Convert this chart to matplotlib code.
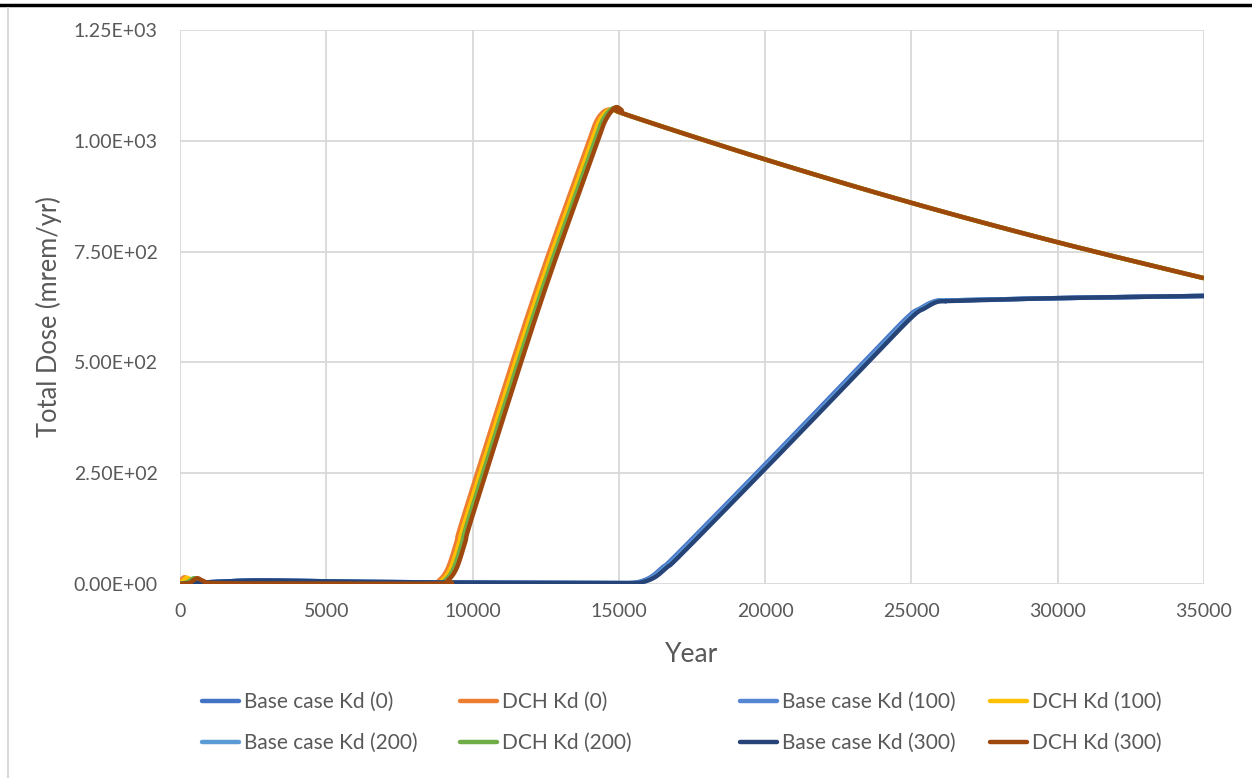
import numpy as np
import matplotlib
matplotlib.use("Agg")
import matplotlib.pyplot as plt
from matplotlib.lines import Line2D
from matplotlib.ticker import FuncFormatter

plt.rcParams['font.family'] = ['Lato', 'DejaVu Sans']

# Total dose vs time, base case and DCH runs at four Kd values
base_kd0_x = [0, 300, 1000, 2000, 2800, 4000, 6000, 8000, 10000, 12000, 14000, 15300, 15700, 16100, 16500, 17000,
              20000, 23000, 24800, 25300, 25700, 26000, 26400, 30000, 35000]
base_kd0_y = [0, 2, 4, 7, 8, 7, 5, 4, 3, 2.5, 2, 2, 5, 16, 38, 68, 270, 475, 598, 622, 636, 640, 640, 645, 650]

base_kd100_x = [0, 300, 1000, 2000, 2800, 4000, 6000, 8000, 10000, 12000, 14000, 15350, 15750, 16150, 16550, 17050,
                20050, 23050, 24850, 25350, 25750, 26050, 26450, 30000, 35000]
base_kd100_y = [0, 2, 4, 7, 8, 7, 5, 4, 3, 2.5, 2, 2, 5, 16, 38, 68, 270, 475, 598, 622, 636, 640, 640, 645, 650]

base_kd200_x = [0, 300, 1000, 2000, 2800, 4000, 6000, 8000, 10000, 12000, 14000, 15400, 15800, 16200, 16600, 17100,
                20100, 23100, 24900, 25400, 25800, 26100, 26500, 30000, 35000]
base_kd200_y = [0, 2, 4, 7, 8, 7, 5, 4, 3, 2.5, 2, 2, 5, 16, 38, 68, 270, 475, 598, 622, 636, 640, 640, 645, 650]

base_kd300_x = [0, 400, 1000, 2000, 2800, 4000, 6000, 8000, 10000, 12000, 14000, 15450, 15850, 16250, 16650, 17150,
                20150, 23150, 24950, 25450, 25850, 26150, 26550, 30000, 35000]
base_kd300_y = [0, 2, 4, 7, 8, 7, 5, 4, 3, 2.5, 2, 2, 5, 16, 38, 68, 270, 475, 598, 622, 636, 638, 639, 645, 650]

dch_kd0_x = [0, 80, 170, 300, 500, 900, 4000, 8550, 8850, 9150, 9450, 9750, 12000, 13900, 14200, 14450, 14700,
             14950, 15300, 20000, 25000, 30000, 35000]
dch_kd0_y = [0, 12, 15, 9, 3, 1, 1, 1, 8, 35, 95, 165, 630, 985, 1040, 1064, 1071, 1068, 1058, 958, 860, 771, 690]

dch_kd100_x = [0, 150, 260, 400, 600, 1000, 4000, 8650, 8950, 9250, 9550, 9850, 12100, 14000, 14300, 14550, 14780,
               15000, 15300, 20000, 25000, 30000, 35000]
dch_kd100_y = [0, 11, 14, 8, 3, 1, 1, 1, 8, 35, 95, 165, 630, 985, 1040, 1064, 1072, 1068, 1058, 958, 860, 771, 690]

dch_kd200_x = [0, 250, 400, 520, 700, 1100, 4000, 8750, 9050, 9350, 9650, 9950, 12200, 14100, 14400, 14650, 14850,
               15050, 15300, 20000, 25000, 30000, 35000]
dch_kd200_y = [0, 4, 11, 13, 6, 1, 1, 1, 8, 35, 95, 165, 630, 985, 1040, 1066, 1074, 1069, 1058, 958, 860, 771, 690]

dch_kd300_x = [0, 300, 450, 600, 800, 1200, 4000, 8850, 9150, 9450, 9750, 10050, 12300, 14200, 14500, 14750, 14920,
               15100, 15300, 20000, 25000, 30000, 35000]
dch_kd300_y = [0, 2, 8, 13, 7, 2, 1, 1, 8, 35, 95, 165, 630, 985, 1040, 1067, 1076, 1069, 1058, 958, 860, 771, 690]

series = [
    ("Base case Kd (0)", base_kd0_x, base_kd0_y, "#4472C4"),
    ("DCH Kd (0)", dch_kd0_x, dch_kd0_y, "#ED7D31"),
    ("Base case Kd (100)", base_kd100_x, base_kd100_y, "#5585D3"),
    ("DCH Kd (100)", dch_kd100_x, dch_kd100_y, "#FFC000"),
    ("Base case Kd (200)", base_kd200_x, base_kd200_y, "#5B9BD5"),
    ("DCH Kd (200)", dch_kd200_x, dch_kd200_y, "#70AD47"),
    ("Base case Kd (300)", base_kd300_x, base_kd300_y, "#264478"),
    ("DCH Kd (300)", dch_kd300_x, dch_kd300_y, "#9E480E"),
]

def smooth(x, y, n=12):
    # Catmull-Rom style smoothing, close to the spreadsheet's smoothed lines
    x = np.asarray(x, float); y = np.asarray(y, float)
    px = np.concatenate([[x[0]], x, [x[-1]]])
    py = np.concatenate([[y[0]], y, [y[-1]]])
    ox, oy = [], []
    for i in range(1, len(px) - 2):
        t = np.linspace(0, 1, n, endpoint=False)
        for p, o in ((px, ox), (py, oy)):
            p0, p1, p2, p3 = p[i-1], p[i], p[i+1], p[i+2]
            o.extend(0.5*((2*p1) + (-p0 + p2)*t + (2*p0 - 5*p1 + 4*p2 - p3)*t**2
                          + (-p0 + 3*p1 - 3*p2 + p3)*t**3))
    ox.append(x[-1]); oy.append(y[-1])
    return np.array(ox), np.array(oy)

W, H = 1252, 778
fig = plt.figure(figsize=(W/100, H/100), dpi=100)
ax = fig.add_axes([180/W, 1 - 584/H, 1024/W, 554/H])

handles = {}
for name, xs, ys, c in series:
    sx, sy = smooth(xs, ys)
    h, = ax.plot(sx, sy, color=c, lw=3.2, solid_capstyle='butt', solid_joinstyle='round', label=name)
    handles[name] = h

ax.set_xlim(0, 35000)
ax.set_ylim(0, 1250)
ax.set_xticks(np.arange(0, 35001, 5000))
ax.set_yticks(np.arange(0, 1251, 250))
ax.yaxis.set_major_formatter(FuncFormatter(lambda v, p: "{:.2E}".format(v)))
ax.grid(True, color="#D9D9D9", lw=1.3)
ax.set_axisbelow(True)
for s in ax.spines.values():
    s.set_visible(False)
ax.tick_params(length=0, labelsize=14, colors="#595959")
ax.tick_params(axis='y', pad=16)
ax.tick_params(axis='x', pad=14)

ax.set_xlabel("Year", fontsize=19, color="#595959")
ax.set_ylabel("Total Dose (mrem/yr)", fontsize=18.4, color="#595959")
ax.xaxis.set_label_coords(0.5, -0.105)
ax.yaxis.set_label_coords(-0.115, 0.482)

# legend laid out in rows, one small legend per column
cols = [("Base case Kd (0)", "Base case Kd (200)", 202),
        ("DCH Kd (0)", "DCH Kd (200)", 460),
        ("Base case Kd (100)", "Base case Kd (300)", 740),
        ("DCH Kd (100)", "DCH Kd (300)", 990)]
for a, b, px in cols:
    lg = fig.legend(handles=[handles[a], handles[b]], labels=[a, b],
                    loc='upper left', bbox_to_anchor=(px/W, 1 - 692/H),
                    frameon=False, fontsize=15, labelcolor="#595959",
                    handlelength=1.78, handletextpad=0.25, borderpad=0,
                    borderaxespad=0, labelspacing=1.0)
    for ln in lg.get_lines():
        ln.set_linewidth(3.2)
        ln.set_solid_capstyle('round')

# chart frame edges
fig.add_artist(Line2D([0, 1], [1 - 5/H, 1 - 5/H], color="black", lw=2.5))
fig.add_artist(Line2D([8/W, 8/W], [0, 1 - 8/H], color="#D9D9D9", lw=1.5))

fig.savefig("out.png", dpi=100)
